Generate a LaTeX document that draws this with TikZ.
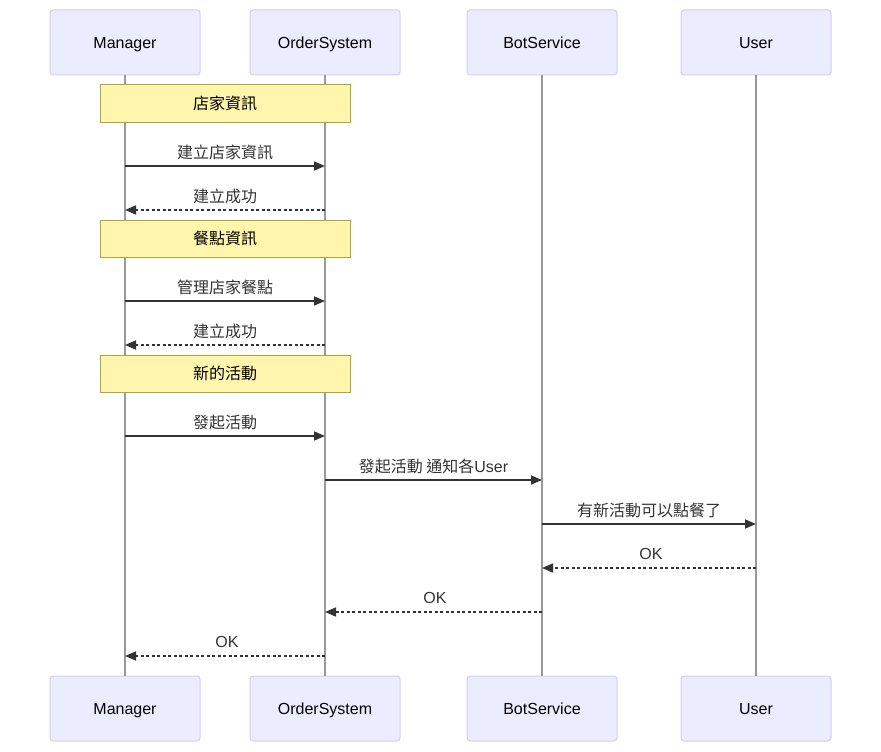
\documentclass[tikz,border=0pt]{standalone}
\usepackage{fontspec}
\setmainfont{Liberation Sans}
\newfontfamily\cjk{Noto Sans CJK TC}
\usetikzlibrary{arrows.meta}
\definecolor{actfill}{HTML}{ECECFF}
\definecolor{actdraw}{HTML}{D3CFF0}
\definecolor{notefill}{HTML}{FFF5AD}
\definecolor{notedraw}{HTML}{AAAA33}
\definecolor{lifeline}{HTML}{999999}
\definecolor{msg}{HTML}{333333}
\tikzset{
  actor/.style={draw=actdraw, fill=actfill, rounded corners=3pt, line width=1pt,
    minimum width=150pt, minimum height=65pt, inner sep=0pt, text height=11.5pt, text depth=0pt,
    font=\fontsize{16}{19}\selectfont, text=black},
  notebox/.style={draw=notedraw, fill=notefill, line width=1pt, minimum width=250pt,
    minimum height=37pt, inner sep=0pt, text height=12pt, text depth=1pt,
    font=\fontsize{16}{19}\selectfont\cjk, text=black},
  life/.style={draw=lifeline, line width=1.6pt},
  solidmsg/.style={draw=msg, line width=1.6pt, -{Triangle[length=11pt,width=9pt]}},
  dashmsg/.style={draw=msg, line width=1.6pt, dash pattern=on 3pt off 2.5pt, -{Triangle[length=11pt,width=9pt]}},
  lbl/.style={text=msg, font=\fontsize{16}{19}\selectfont\cjk, inner sep=0pt, anchor=base}
}
\begin{document}
\begin{tikzpicture}[x=1pt,y=-1pt]
\useasboundingbox (0,0) rectangle (881,752);
% actors
\node[actor] (mt) at (125,42.5) {Manager};
\node[actor] (ot) at (325,42.5) {OrderSystem};
\node[actor] (bt) at (542,42.5) {BotService};
\node[actor] (ut) at (756,42.5) {User};
\node[actor] (mb) at (125,708.5) {Manager};
\node[actor] (ob) at (325,708.5) {OrderSystem};
\node[actor] (bb) at (542,708.5) {BotService};
\node[actor] (ub) at (756,708.5) {User};
% lifelines
\draw[life] (mt.south) -- (mb.north);
\draw[life] (ot.south) -- (ob.north);
\draw[life] (bt.south) -- (bb.north);
\draw[life] (ut.south) -- (ub.north);
% notes
\node[notebox] (n1) at (225,103.5) {店家資訊};
\node[notebox] (n2) at (225,238.5) {餐點資訊};
\node[notebox] (n3) at (225,373.5) {新的活動};
% message coordinates
\coordinate (a1) at (125,166); \coordinate (b1) at (325,166);
\coordinate (a2) at (325,210); \coordinate (b2) at (125,210);
\coordinate (a3) at (125,301); \coordinate (b3) at (325,301);
\coordinate (a4) at (325,345); \coordinate (b4) at (125,345);
\coordinate (a5) at (125,436); \coordinate (b5) at (325,436);
\coordinate (a6) at (325,480); \coordinate (b6) at (542,480);
\coordinate (a7) at (542,524); \coordinate (b7) at (756,524);
\coordinate (a8) at (756,568); \coordinate (b8) at (542,568);
\coordinate (a9) at (542,612); \coordinate (b9) at (325,612);
\coordinate (a10) at (325,656); \coordinate (b10) at (125,656);
% messages
\draw[solidmsg] (a1) -- (b1);
\draw[dashmsg] (a2) -- (b2);
\draw[solidmsg] (a3) -- (b3);
\draw[dashmsg] (a4) -- (b4);
\draw[solidmsg] (a5) -- (b5);
\draw[solidmsg] (a6) -- (b6);
\draw[solidmsg] (a7) -- (b7);
\draw[dashmsg] (a8) -- (b8);
\draw[dashmsg] (a9) -- (b9);
\draw[dashmsg] (a10) -- (b10);
% labels
\node[lbl] (l1) at (225,158) {建立店家資訊};
\node[lbl] (l2) at (225,202) {建立成功};
\node[lbl] (l3) at (225,293) {管理店家餐點};
\node[lbl] (l4) at (225,337) {建立成功};
\node[lbl] (l5) at (225,428) {發起活動};
\node[lbl] (l6) at (433.5,472) {發起活動 通知各\fontspec{Liberation Sans}User};
\node[lbl] (l7) at (649,516) {有新活動可以點餐了};
\node[lbl,font=\fontsize{16}{19}\selectfont] (l8) at (651,559) {OK};
\node[lbl,font=\fontsize{16}{19}\selectfont] (l9) at (435,603) {OK};
\node[lbl,font=\fontsize{16}{19}\selectfont] (l10) at (227,647) {OK};
\end{tikzpicture}
\end{document}
